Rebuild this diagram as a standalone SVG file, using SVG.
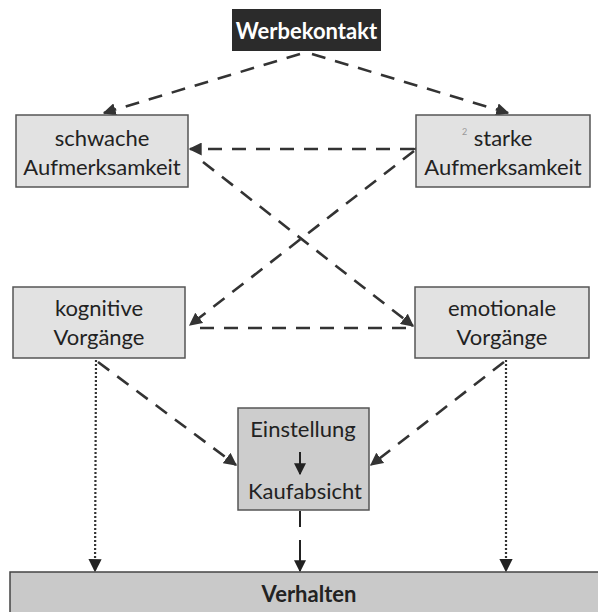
<svg xmlns="http://www.w3.org/2000/svg" width="598" height="612" viewBox="0 0 598 612">
<style>
.box{fill:#e2e2e2;stroke:#555;stroke-width:1.5}
.box2{fill:#cdcdcd;stroke:#555;stroke-width:1.5}
.t{font-family:"Lato","Open Sans",sans-serif;font-size:22px;fill:#222;text-anchor:middle}
.b{font-family:"Lato","Open Sans",sans-serif;font-size:22px;font-weight:bold;text-anchor:middle}
.dash{fill:none;stroke:#333;stroke-width:2.6;stroke-dasharray:14 10}
.dot{fill:none;stroke:#333;stroke-width:2.2;stroke-dasharray:2 2}
.sol{fill:none;stroke:#222;stroke-width:2}
</style>
<defs>
<marker id="ah" viewBox="0 0 10 10" refX="9" refY="5" markerWidth="5" markerHeight="5" orient="auto" markerUnits="strokeWidth">
<path d="M0,0 L10,5 L0,10 z" fill="#333"/>
</marker>
<marker id="ah2" viewBox="0 0 10 10" refX="9" refY="5" markerWidth="6" markerHeight="6" orient="auto" markerUnits="strokeWidth">
<path d="M0,0 L10,5 L0,10 z" fill="#222"/>
</marker>
</defs>
<g id="connectors">
<line class="dash" x1="300" y1="54" x2="104" y2="113" marker-end="url(#ah)"/>
<line class="dash" x1="312" y1="54" x2="508" y2="113" marker-end="url(#ah)"/>
<line class="dash" x1="414" y1="149" x2="190" y2="149" marker-end="url(#ah)" marker-start="url(#ah)"/>
<line class="dash" x1="203" y1="162" x2="413" y2="326" marker-end="url(#ah)"/>
<line class="dash" x1="414" y1="151" x2="190" y2="325" marker-end="url(#ah)"/>
<line class="dash" x1="200" y1="328" x2="412" y2="328"/>
<line class="dash" x1="98" y1="362" x2="236" y2="465" marker-end="url(#ah)"/>
<line class="dash" x1="504" y1="362" x2="371" y2="465" marker-end="url(#ah)"/>
<line class="dot" x1="96" y1="360" x2="95" y2="571" marker-end="url(#ah2)"/>
<line class="dot" x1="506" y1="360" x2="506" y2="571" marker-end="url(#ah2)"/>
<line class="sol" x1="300" y1="511" x2="300" y2="527"/>
<line class="sol" x1="300" y1="540" x2="300" y2="571" marker-end="url(#ah2)"/>
</g>
<g id="werbekontakt">
<rect x="232" y="9" width="149" height="42" fill="#2b2b2b"/>
<text class="b" x="306.5" y="39" fill="#fff">Werbekontakt</text>
</g>
<g id="schwache">
<rect class="box" x="16" y="115" width="172" height="72"/>
<text class="t" x="102" y="146">schwache</text>
<text class="t" x="102" y="175">Aufmerksamkeit</text>
</g>
<g id="starke">
<rect class="box" x="416" y="115" width="174" height="72"/>
<text x="462" y="135" font-family="Lato,sans-serif" font-size="9" fill="#999">2</text>
<text class="t" x="503" y="146">starke</text>
<text class="t" x="503" y="175">Aufmerksamkeit</text>
</g>
<g id="kognitive">
<rect class="box" x="13" y="287" width="172" height="71"/>
<text class="t" x="99" y="316">kognitive</text>
<text class="t" x="99" y="345">Vorgänge</text>
</g>
<g id="emotionale">
<rect class="box" x="415" y="287" width="174" height="71"/>
<text class="t" x="502" y="316">emotionale</text>
<text class="t" x="502" y="345">Vorgänge</text>
</g>
<g id="einstellung">
<rect class="box2" x="238" y="408" width="131" height="102"/>
<text class="t" x="303" y="437">Einstellung</text>
<line class="sol" x1="300" y1="452" x2="300" y2="474" stroke-width="1.5" marker-end="url(#ah2)"/>
<text class="t" x="305" y="499">Kaufabsicht</text>
</g>
<g id="verhalten">
<rect x="10" y="572" width="600" height="50" fill="#c9c9c9" stroke="#444" stroke-width="1.5"/>
<text class="b" x="309" y="602" fill="#222">Verhalten</text>
</g>
</svg>
